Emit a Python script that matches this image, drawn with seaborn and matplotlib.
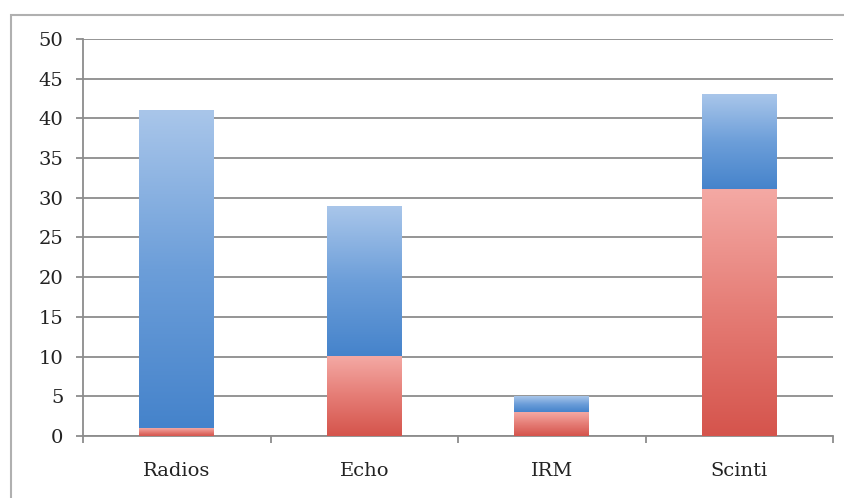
import numpy as np
import pandas as pd
import seaborn as sns
import matplotlib.pyplot as plt
from matplotlib.colors import LinearSegmentedColormap
from matplotlib.patches import Rectangle

# data
categories = ['Radios', 'Echo', 'IRM', 'Scinti']
red_values = [1, 10, 3, 31]
blue_values = [40, 19, 2, 12]
y_ticks = [0, 5, 10, 15, 20, 25, 30, 35, 40, 45, 50]

totals = [r + b for r, b in zip(red_values, blue_values)]
df = pd.DataFrame({'cat': categories, 'red': red_values, 'total': totals})

sns.set_style('white')
plt.rcParams['font.family'] = ['DejaVu Serif']

fig = plt.figure(figsize=(8.44, 4.98), dpi=100)
ax = fig.add_axes([83 / 844, 1 - 436 / 498, (833 - 83) / 844, (436 - 39) / 498])

# outer frame of the chart area
fig.patches.append(Rectangle((11 / 844, -0.1), 1.2, 1 - 15 / 498 + 0.1,
                             transform=fig.transFigure, fill=False,
                             edgecolor='#b0b0b0', linewidth=1.5, zorder=0))

sns.barplot(data=df, x='cat', y='total', color='#4a86c8', width=0.4, ax=ax,
            saturation=1, zorder=2)
sns.barplot(data=df, x='cat', y='red', color='#d9534f', width=0.4, ax=ax,
            saturation=1, zorder=3)

blue_cmap = LinearSegmentedColormap.from_list('b', ['#4583cb', '#6c9ed9', '#a9c6ea'])
red_cmap = LinearSegmentedColormap.from_list('r', ['#d5544c', '#e57c75', '#f4a9a4'])
grad = np.linspace(0, 1, 256).reshape(-1, 1)

n = len(categories)
for i, p in enumerate(ax.patches):
    x0, w = p.get_x(), p.get_width()
    if i < n:
        # blue part sits above the red part
        y0 = red_values[i]
        y1 = totals[i]
        cmap = blue_cmap
    else:
        y0 = 0
        y1 = red_values[i - n]
        cmap = red_cmap
    p.set_visible(False)
    ax.imshow(grad, cmap=cmap, origin='lower', aspect='auto',
              extent=[x0, x0 + w, y0, y1], zorder=3 if i < n else 4,
              interpolation='bicubic')

ax.set_xlim(-0.5, n - 0.5)
ax.set_ylim(0, 50)
ax.set_yticks(y_ticks)
ax.set_xticks(range(n))
ax.set_xticklabels(categories)
ax.set_xticks(np.arange(-0.5, n, 1), minor=True)
ax.set_xlabel('')
ax.set_ylabel('')

ax.grid(axis='y', color='#8c8c8c', linewidth=1.3, zorder=1)
ax.set_axisbelow(True)
for s in ['top', 'right']:
    ax.spines[s].set_visible(False)
for s in ['left', 'bottom']:
    ax.spines[s].set_color('#8c8c8c')
    ax.spines[s].set_linewidth(1.3)

ax.tick_params(axis='y', which='major', left=True, length=5, width=1.3,
               color='#8c8c8c', labelsize=14, labelcolor='#222222', pad=9)
ax.tick_params(axis='x', which='major', bottom=False, labelsize=14,
               labelcolor='#222222', pad=15)
ax.tick_params(axis='x', which='minor', bottom=True, length=5, width=1.3,
               color='#8c8c8c', direction='out')

fig.savefig('out.png', dpi=100)
